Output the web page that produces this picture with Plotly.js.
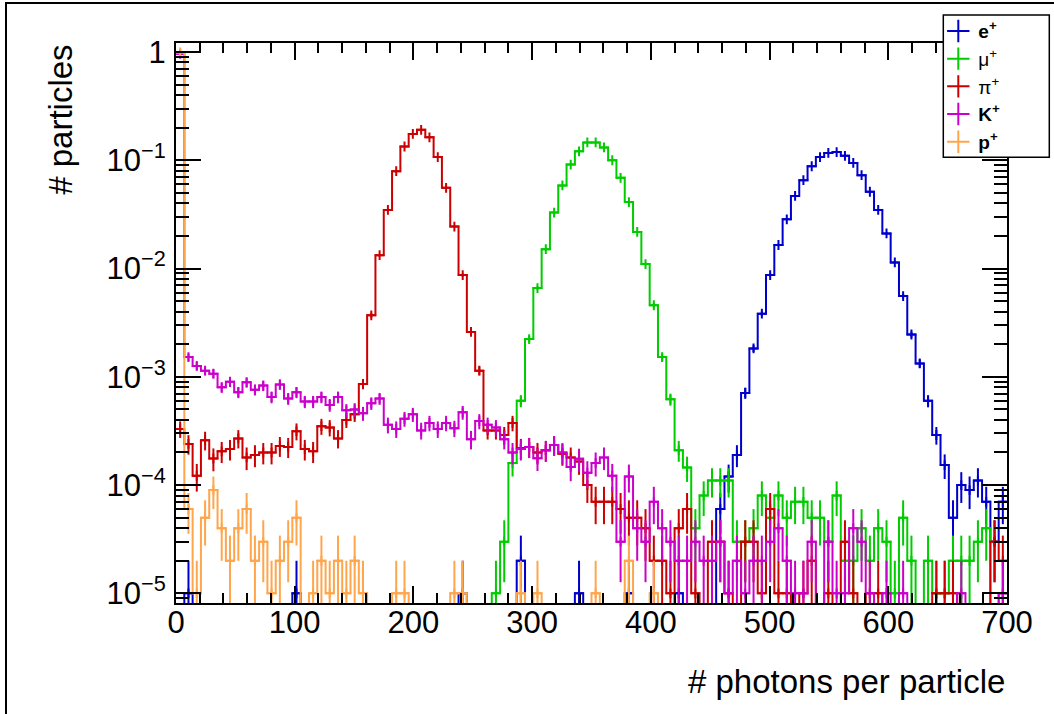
<!DOCTYPE html>
<html>
<head>
<meta charset="utf-8">
<script src="https://cdn.plot.ly/plotly-3.0.1.min.js"></script>
<style>
html,body{margin:0;padding:0;background:#fff;overflow:hidden;}
#chart{position:absolute;left:0;top:0;width:1054px;height:714px;}
#frame{position:absolute;left:5px;top:2px;width:1100px;height:800px;border-left:2px solid #000;border-top:2px solid #000;pointer-events:none;}
</style>
</head>
<body>
<div id="chart"></div>
<div id="frame"></div>
<script>
// ---- histogram definition: 100 bins of width 7 over 0..700 ----
const binWidth = 7;
const nBins = 100;
const entryUnit = 1e-5;   // normalised content of one entry

// ---- series values (normalised bin contents) ----
const ePlus = [
 0,1e-5,0,0,0,0,0,0,0,0,
 0,0,0,0,1e-5,0,0,0,0,0,
 0,0,0,0,0,0,0,0,0,0,
 0,0,0,0,1e-5,0,0,0,0,0,
 0,2e-5,0,0,0,0,0,0,1e-5,0,
 0,0,0,0,1e-5,0,0,0,0,0,
 1e-5,0,0,0,0,6e-5,1.2e-4,1.9e-4,7.1e-4,1.83e-3,
 3.83e-3,8.7e-3,0.0165,0.0285,0.0468,0.0655,0.088,0.107,0.117,0.119,
 0.110,0.0945,0.0728,0.0512,0.0348,0.0211,0.0114,5.57e-3,2.46e-3,1.33e-3,
 6.0e-4,2.9e-4,1.53e-4,5e-5,1.0e-4,9e-5,1.1e-4,7e-5,3e-5,7e-5
];
const muPlus = [
 0,0,0,0,0,0,0,0,0,0,
 0,0,0,0,0,0,0,0,0,0,
 0,0,0,0,0,0,0,0,0,0,
 0,0,0,0,0,0,0,0,1e-5,3e-5,
 1.6e-4,6.0e-4,2.23e-3,6.6e-3,0.0151,0.0329,0.0585,0.0912,0.121,0.146,
 0.146,0.1315,0.100,0.0688,0.0411,0.0218,0.0110,4.58e-3,1.52e-3,6.2e-4,
 2.1e-4,1.45e-4,4e-5,8e-5,1.1e-4,1.1e-4,1.1e-4,3e-5,3e-5,4e-5,
 8e-5,5e-5,8e-5,5e-5,7e-5,7e-5,5e-5,5e-5,3e-5,8e-5,
 2e-5,2e-5,4e-5,2e-5,4e-5,3e-5,1e-5,5e-5,2e-5,0,
 2e-5,1e-5,1e-5,2e-5,2e-5,2e-5,3e-5,4e-5,0,1e-5
];
const piPlus = [
 3.3e-4,2.4e-4,1.22e-4,2.6e-4,1.76e-4,2.05e-4,2.15e-4,2.7e-4,1.8e-4,1.9e-4,
 2.0e-4,2.0e-4,2.3e-4,2.25e-4,3.15e-4,2.15e-4,2.05e-4,3.5e-4,3.4e-4,2.7e-4,
 4.0e-4,4.5e-4,8.6e-4,3.7e-3,0.0133,0.0348,0.0793,0.134,0.175,0.191,
 0.163,0.107,0.0557,0.0244,8.7e-3,2.6e-3,1.14e-3,3.2e-4,3.2e-4,2.9e-4,
 3.75e-4,2.2e-4,2.25e-4,2.0e-4,2.1e-4,2.35e-4,1.95e-4,1.8e-4,1.65e-4,1.0e-4,
 7e-5,7e-5,7e-5,6e-5,5e-5,5e-5,4e-5,2e-5,2e-5,1e-5,
 4e-5,6e-5,1e-5,0,3e-5,3e-5,1e-5,0,3e-5,3e-5,
 1e-5,6e-5,1e-5,1e-5,0,1e-5,2e-5,0,1e-5,0,
 3e-5,1e-5,0,1e-5,1e-5,0,0,0,0,0,
 0,1e-5,1e-5,1e-5,0,0,0,0,3e-5,2e-5
];
const kPlus = [
 0.96,1.52e-3,1.26e-3,1.14e-3,1.07e-3,8.0e-4,9.0e-4,7.2e-4,8.9e-4,7.6e-4,
 8.3e-4,6.5e-4,8.5e-4,6.3e-4,7.2e-4,5.9e-4,5.9e-4,6.5e-4,5.5e-4,6.5e-4,
 4.9e-4,5.0e-4,4.6e-4,5.7e-4,6.3e-4,3.6e-4,3.3e-4,4.1e-4,4.5e-4,3.2e-4,
 3.75e-4,3.3e-4,3.75e-4,3.35e-4,4.7e-4,2.65e-4,3.9e-4,3.6e-4,3.4e-4,2.65e-4,
 2.0e-4,2.15e-4,2.25e-4,1.77e-4,2.1e-4,2.35e-4,2.0e-4,1.47e-4,1.75e-4,1.3e-4,
 1.6e-4,1.8e-4,1.22e-4,3e-5,1.2e-4,4e-5,3e-5,7e-5,4e-5,3e-5,
 2e-5,2e-5,3e-5,2e-5,2e-5,3e-5,1e-5,2e-5,1e-5,2e-5,
 2e-5,3e-5,4e-5,2e-5,1e-5,1e-5,3e-5,0,3e-5,1e-5,
 1e-5,4e-5,3e-5,1e-5,0,1e-5,0,1e-5,0,0,
 0,0,0,0,1e-5,0,0,0,0,1e-5
];
const pPlus = [
 0.99,6e-5,1e-5,5e-5,9e-5,4e-5,2e-5,4e-5,6e-5,2e-5,
 3e-5,1e-5,2e-5,3e-5,5e-5,0,1e-5,2e-5,1e-5,2e-5,
 1e-5,2e-5,1e-5,0,0,0,1e-5,1e-5,0,0,
 0,0,0,1e-5,1e-5,0,0,0,0,0,
 0,1e-5,0,1e-5,0,0,0,0,0,0,
 1e-5,0,0,0,2e-5,0,0,1e-5,0,0,
 0,0,0,0,0,0,0,0,0,0,
 0,0,0,0,0,0,0,0,0,0,
 0,0,0,0,0,0,0,0,0,0,
 0,0,0,0,0,0,0,0,0,0
];

const seriesNames  = ['<b>e<sup>+</sup></b>', 'μ<sup>+</sup>', 'π<sup>+</sup>', '<b>K<sup>+</sup></b>', '<b>p<sup>+</sup></b>'];
const seriesValues = [ePlus, muPlus, piPlus, kPlus, pPlus];
const seriesColors = ['#0000cc', '#00cc00', '#cc0000', '#cc00cc', '#ffa64d'];

const yTickVals  = [1e-5, 1e-4, 1e-3, 1e-2, 1e-1, 1];
const yTickText  = ['10<sup>−5</sup>', '10<sup>−4</sup>', '10<sup>−3</sup>', '10<sup>−2</sup>', '10<sup>−1</sup>', '1'];

// ---- build traces ----
const FONT = 'Liberation Sans, Arial, Helvetica, sans-serif';
const edges = [];
for (let i = 0; i <= nBins; i++) edges.push(i * binWidth);
const centers = [];
for (let i = 0; i < nBins; i++) centers.push((i + 0.5) * binWidth);
const FLOOR = 1e-9; // empty bins drop below the frame

const minorY = [];
for (let k = -6; k <= 0; k++) for (let m = 2; m <= 9; m++) minorY.push(m * Math.pow(10, k));

const traces = [];
seriesValues.forEach((vals, s) => {
  const col = seriesColors[s];
  const yStep = vals.map(v => v > 0 ? v : FLOOR);
  yStep.push(yStep[yStep.length - 1]);
  traces.push({
    type: 'scatter', mode: 'lines', x: edges, y: yStep,
    line: {shape: 'hv', color: col, width: 2, simplify: false},
    showlegend: false, hoverinfo: 'skip'
  });
  traces.push({
    type: 'scatter', mode: 'markers', x: centers,
    y: vals.map(v => v > 0 ? v : null),
    marker: {symbol: 'cross-thin', size: 7, color: col, line: {color: col, width: 2}},
    error_y: {type: 'data', array: vals.map(v => Math.sqrt(v * entryUnit)), thickness: 2, width: 0, color: col},
    showlegend: false, hoverinfo: 'skip'
  });
});
seriesValues.forEach((vals, s) => {
  traces.push({
    type: 'scatter', mode: 'markers', x: [null], y: [null],
    name: seriesNames[s],
    legendgroup: 'g' + s,
    marker: {symbol: 'cross-thin', size: 16, color: seriesColors[s], line: {color: seriesColors[s], width: 2}},
    showlegend: true
  });
});

// plot area: 176..1007 px wide, 39..603 px high
const legendBox = {x0: 0.92335, x1: 1.0509, y0: 0.7959, y1: 1.0498};

const layout = {
  width: 1054, height: 714,
  margin: {l: 176, r: 47, t: 39, b: 111, pad: 0},
  paper_bgcolor: '#fff', plot_bgcolor: '#fff',
  font: {family: FONT, color: '#000'},
  showlegend: true,
  xaxis: {
    range: [0, 700], tickmode: 'linear', tick0: 0, dtick: 100,
    ticks: 'inside', ticklen: 17, tickwidth: 2, tickcolor: '#000',
    showline: true, linecolor: '#000', linewidth: 2, mirror: 'ticks',
    showgrid: false, zeroline: false, ticklabelstandoff: -9,
    tickfont: {family: FONT, size: 31, color: '#000'},
    minor: {dtick: 20, tick0: 0, ticks: 'inside', ticklen: 10, tickwidth: 2, tickcolor: '#000', showgrid: false}
  },
  yaxis: {
    type: 'log', range: [-5.089, 0.083],
    tickmode: 'array', tickvals: yTickVals, ticktext: yTickText,
    ticks: 'inside', ticklen: 25, tickwidth: 2, tickcolor: '#000',
    showline: true, linecolor: '#000', linewidth: 2, mirror: 'ticks',
    showgrid: false, zeroline: false, ticklabelstandoff: 2,
    tickfont: {family: FONT, size: 31, color: '#000'},
    minor: {tickmode: 'array', tickvals: minorY, ticks: 'inside', ticklen: 13, tickwidth: 2, tickcolor: '#000', showgrid: false}
  },
  legend: {
    x: legendBox.x0, xanchor: 'left', y: 1.0552, yanchor: 'top',
    bgcolor: 'rgba(0,0,0,0)', borderwidth: 0,
    font: {family: FONT, size: 19, color: '#000'},
    traceorder: 'grouped', tracegroupgap: 0, itemwidth: 30, indentation: -5
  },
  shapes: [
    {type: 'rect', xref: 'paper', yref: 'paper', layer: 'above',
     x0: legendBox.x0, x1: legendBox.x1, y0: legendBox.y0, y1: legendBox.y1,
     line: {color: '#000', width: 1.5}, fillcolor: '#fff'}
  ],
  annotations: [
    {text: '# particles', xref: 'paper', yref: 'paper', x: -0.1398, y: 1.0, xanchor: 'center', yanchor: 'top',
     textangle: -90, showarrow: false, font: {family: FONT, size: 33, color: '#000'}},
    {text: '# photons per particle', xref: 'paper', yref: 'paper', x: 1.0, y: -0.1403, xanchor: 'right', yanchor: 'middle',
     showarrow: false, font: {family: FONT, size: 33, color: '#000'}}
  ]
};

Plotly.newPlot('chart', traces, layout, {displayModeBar: false, staticPlot: true});
</script>
</body>
</html>
